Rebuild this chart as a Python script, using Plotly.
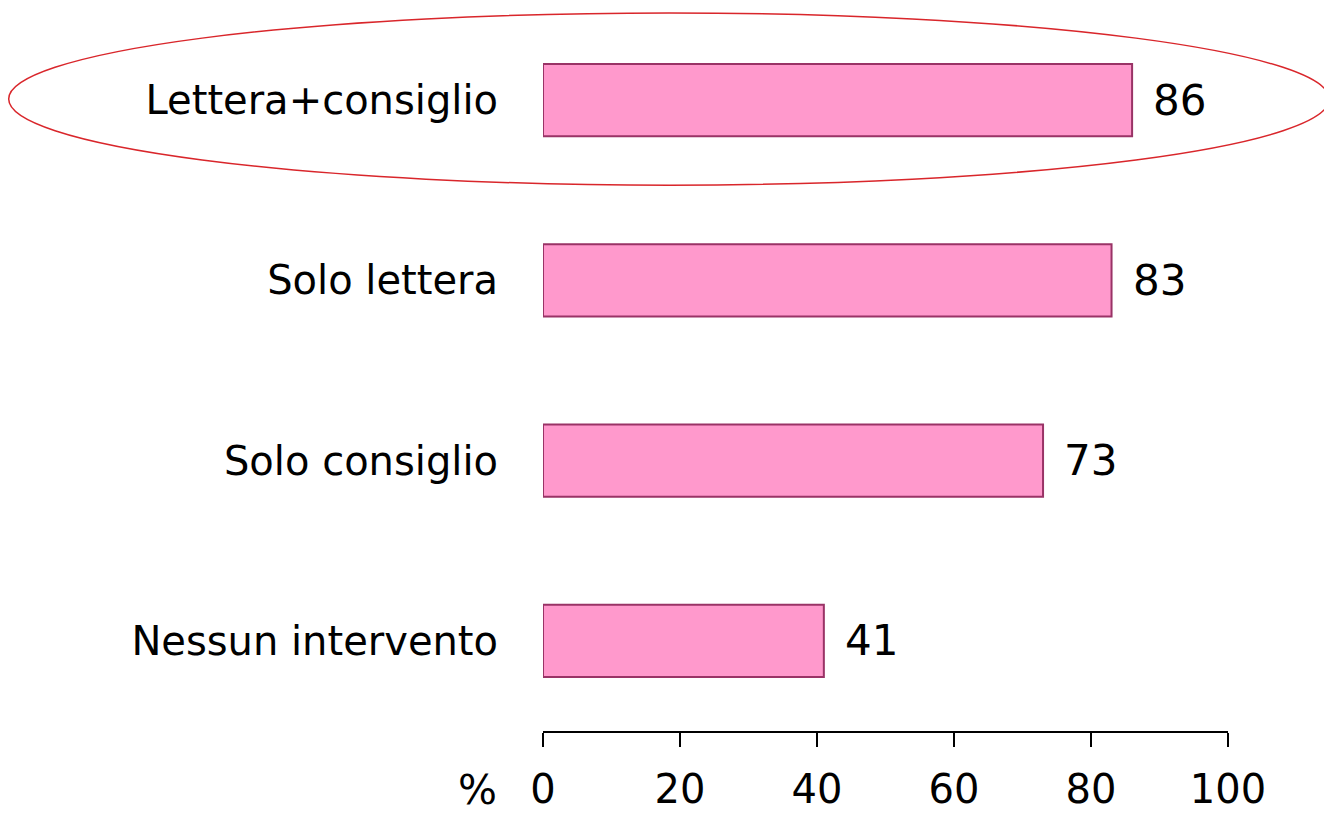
import plotly.graph_objects as go

# Categories listed bottom-to-top as they appear on the horizontal bar chart
categories = ["Nessun intervento", "Solo consiglio", "Solo lettera", "Lettera+consiglio"]
values = [41, 73, 83, 86]
tick_values = [0, 20, 40, 60, 80, 100]
tick_labels = ["0", "20", "40", "60", "80", "100"]

FONT = "DejaVu Sans"

fig = go.Figure(
    go.Bar(
        x=values,
        y=categories,
        orientation="h",
        width=0.4,
        marker=dict(color="#FF99CC", line=dict(color="#993366", width=2)),
        hoverinfo="x+y",
    )
)

# value labels to the right of each bar
for cat, v in zip(categories, values):
    fig.add_annotation(
        x=v, y=cat, text=str(v), showarrow=False,
        xanchor="left", yanchor="middle", xshift=19,
        font=dict(family=FONT, size=42, color="black"),
    )

# unit label left of the x-axis tick labels
fig.add_annotation(
    x=-0.095, y=-0.082, xref="paper", yref="paper", text="%",
    showarrow=False, xanchor="center", yanchor="middle",
    font=dict(family=FONT, size=41, color="black"),
)

# red ellipse highlighting the top category
fig.add_shape(
    type="circle", xref="paper", yref="paper",
    x0=-0.78, x1=1.148, y0=0.757, y1=0.996,
    line=dict(color="#D9262B", width=1.5),
    fillcolor="rgba(0,0,0,0)",
)

fig.update_layout(
    width=1324, height=813,
    margin=dict(l=543, r=96, t=10, b=82),
    plot_bgcolor="white", paper_bgcolor="white",
    showlegend=False,
    font=dict(family=FONT, size=40, color="black"),
    xaxis=dict(
        range=[0, 100], tickvals=tick_values, ticktext=tick_labels,
        showgrid=False, zeroline=False,
        showline=True, linecolor="black", linewidth=1.5,
        ticks="outside", ticklen=14, tickwidth=1.5, tickcolor="black",
        ticklabelstandoff=8,
        tickfont=dict(family=FONT, size=40, color="black"),
        automargin=False,
        fixedrange=True,
    ),
    yaxis=dict(
        categoryorder="array", categoryarray=categories,
        range=[-0.5, 3.5],
        showgrid=False, zeroline=False, showline=False,
        ticks="", ticklabelstandoff=44,
        tickfont=dict(family=FONT, size=40, color="black"),
        automargin=False,
        fixedrange=True,
    ),
)

fig.write_html("out.html")
